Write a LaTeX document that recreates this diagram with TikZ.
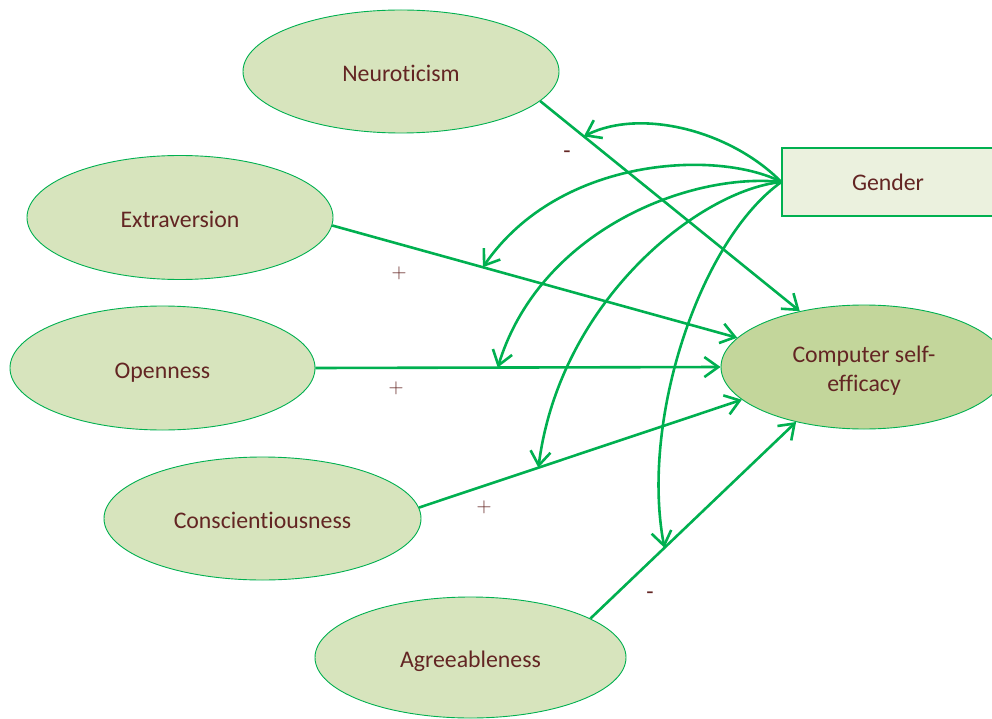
\documentclass[tikz,border=0pt]{standalone}
\usepackage{fontspec}
\setmainfont{Carlito}[Ligatures={NoCommon}]
\usetikzlibrary{shapes.geometric,arrows.meta}
\definecolor{linegreen}{HTML}{00B050}
\definecolor{traitfill}{HTML}{D7E4BD}
\definecolor{outfill}{HTML}{C3D69B}
\definecolor{boxfill}{HTML}{EBF1DE}
\definecolor{labelred}{HTML}{632523}

\begin{document}
\begin{tikzpicture}[x=1pt,y=-1pt,
  labelfont/.style={text=labelred, font=\fontsize{23.8}{29.5}\selectfont},
  trait/.style={ellipse, draw=linegreen, line width=0.9pt, fill=traitfill,
    inner sep=0pt, labelfont, text height=20pt, text depth=0pt},
  link/.style={draw=linegreen, line width=2.6pt,
    -{Straight Barb[length=14pt,width=20pt]}},
  sign/.style={labelfont, inner sep=0pt},
  plussign/.style={text=labelred, inner sep=0pt, font=\fontsize{22}{26}\selectfont}
]
\useasboundingbox (0,0) rectangle (992,719);
\clip (0,0) rectangle (992,719);

% personality traits
\node[trait, minimum width=316, minimum height=123] (neu)  at (401,71.5)   {Neuroticism};
\node[trait, minimum width=306, minimum height=124] (ext)  at (180,217.5)  {Extraversion};
\node[trait, minimum width=305, minimum height=124] (open) at (162.5,368)  {Openness};
\node[trait, minimum width=317, minimum height=123] (cons) at (262.5,518.5){Conscientiousness};
\node[trait, minimum width=311, minimum height=121] (agr)  at (470.5,657.5){Agreeableness};

% outcome and moderator
\node[ellipse, draw=linegreen, line width=0.9pt, fill=outfill, inner sep=0pt,
  labelfont, align=center, minimum width=286, minimum height=124] (cse)
  at (864,367) {\rule{0pt}{24pt}Computer self-\\efficacy};
\node[draw=linegreen, line width=1.3pt, fill=boxfill, labelfont,
  minimum width=212, minimum height=68] (gender)
  at (888,182) {Gender};

% direct effects
\draw[link] (neu.-12.7) -- coordinate[pos=0.168] (gN) (cse.139.3);
\draw[link] (ext.-3.9)  -- coordinate[pos=0.372] (gE) (cse.167);
\draw[link] (open.east) -- coordinate[pos=0.45]  (gO) (cse.west);
\draw[link] (cons.4.9)  -- coordinate[pos=0.37]  (gC) (cse.-165.4);
\draw[link] (agr.18)    -- coordinate[pos=0.36]  (gA) (cse.-141);

% moderation by gender
\draw[link] (gender.west) .. controls (730,130) and (640,108) .. (gN);
\draw[link] (gender.west) .. controls (720,150) and (560,155) .. (gE);
\draw[link] (gender.west) .. controls (690,172) and (540,230) .. (gO);
\draw[link] (gender.west) .. controls (700,190) and (560,300) .. (gC);
\draw[link] (gender.west) .. controls (700,240) and (640,420) .. (gA);

% signs of the effects
\node[sign] (sN) at (567,155) {-};
\node[plussign] (sE) at (399,273) {$+$};
\node[plussign] (sO) at (396,388) {$+$};
\node[plussign] (sC) at (484,507) {$+$};
\node[sign] (sA) at (650,596) {-};
\end{tikzpicture}
\end{document}
